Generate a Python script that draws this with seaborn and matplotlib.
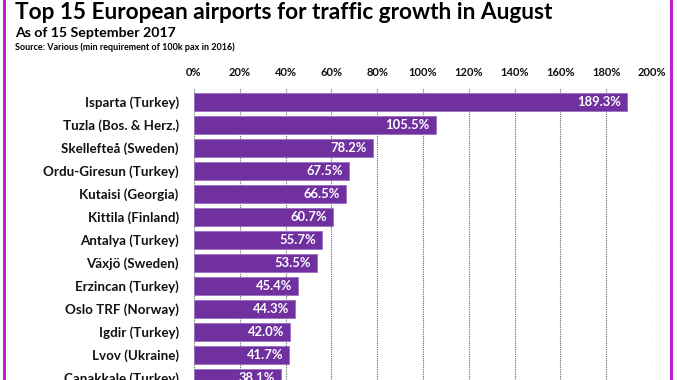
import matplotlib
matplotlib.use("Agg")
import matplotlib.pyplot as plt
import seaborn as sns
import pandas as pd
from matplotlib.ticker import FuncFormatter
from matplotlib.lines import Line2D

airports = ["Isparta (Turkey)", "Tuzla (Bos. & Herz.)", "Skellefteå (Sweden)",
            "Ordu-Giresun (Turkey)", "Kutaisi (Georgia)", "Kittila (Finland)",
            "Antalya (Turkey)", "Växjö (Sweden)", "Erzincan (Turkey)",
            "Oslo TRF (Norway)", "Igdir (Turkey)", "Lvov (Ukraine)",
            "Canakkale (Turkey)"]
growth = [189.3, 105.5, 78.2, 67.5, 66.5, 60.7, 55.7, 53.5, 45.4, 44.3, 42.0, 41.7, 38.1]
xticks = [0, 20, 40, 60, 80, 100, 120, 140, 160, 180, 200]

df = pd.DataFrame({"airport": airports, "growth": growth})

sns.set_theme(style="white")
plt.rcParams["font.family"] = ["Lato", "DejaVu Sans"]

W, H = 677, 380
fig = plt.figure(figsize=(W / 100, H / 100), dpi=100)

pitch = 23.0
top_px = 88
ylo, yhi = -0.6, 12.6
bottom_px = top_px + (yhi - ylo) * pitch
ax = fig.add_axes([194 / W, 1 - bottom_px / H, (652 - 194) / W, (bottom_px - top_px) / H])

sns.barplot(data=df, x="growth", y="airport", ax=ax, color="#7030A0",
            width=0.78, edgecolor="#9a70c0", linewidth=0.6, saturation=1, zorder=3)

ax.set_xlim(0, 200)
ax.set_ylim(yhi, ylo)
ax.set_xticks(xticks)
ax.xaxis.set_major_formatter(FuncFormatter(lambda v, p: f"{int(v)}%"))
ax.xaxis.tick_top()
ax.tick_params(axis="x", length=0, pad=7, labelsize=8)
ax.tick_params(axis="y", length=0, pad=11, labelsize=9.6)
for lab in ax.get_xticklabels() + ax.get_yticklabels():
    lab.set_fontweight("bold")
    lab.set_color("#111111")
ax.set_xlabel("")
ax.set_ylabel("")
for s in ax.spines.values():
    s.set_visible(False)
ax.grid(axis="x", linestyle=(0, (1, 1)), color="#666666", linewidth=0.8, zorder=0)
ax.grid(axis="y", visible=False)
ax.set_axisbelow(True)

for i, v in enumerate(growth):
    ax.text(v - 2.6, i, f"{v:.1f}%", ha="right", va="center", color="white",
            fontsize=9.4, fontweight="bold", zorder=5)

fig.text(15 / W, 1 - 19 / H, "Top 15 European airports for traffic growth in August",
         fontsize=16.3, fontweight="bold", color="black", ha="left", va="baseline")
fig.text(15 / W, 1 - 37 / H, "As of 15 September 2017",
         fontsize=10.2, fontweight="bold", color="black", ha="left", va="baseline")
fig.text(15 / W, 1 - 50 / H, "Source: Various (min requirement of 100k pax in 2016)",
         fontsize=6.5, fontweight="bold", color="black", ha="left", va="baseline")

border = "#C01ED0"
fig.add_artist(Line2D([3.5 / W, 3.5 / W], [0, 1], color=border, linewidth=2.2, transform=fig.transFigure))
fig.add_artist(Line2D([671 / W, 671 / W], [0, 1], color=border, linewidth=2.2, transform=fig.transFigure))

fig.savefig("out.png", dpi=100)
